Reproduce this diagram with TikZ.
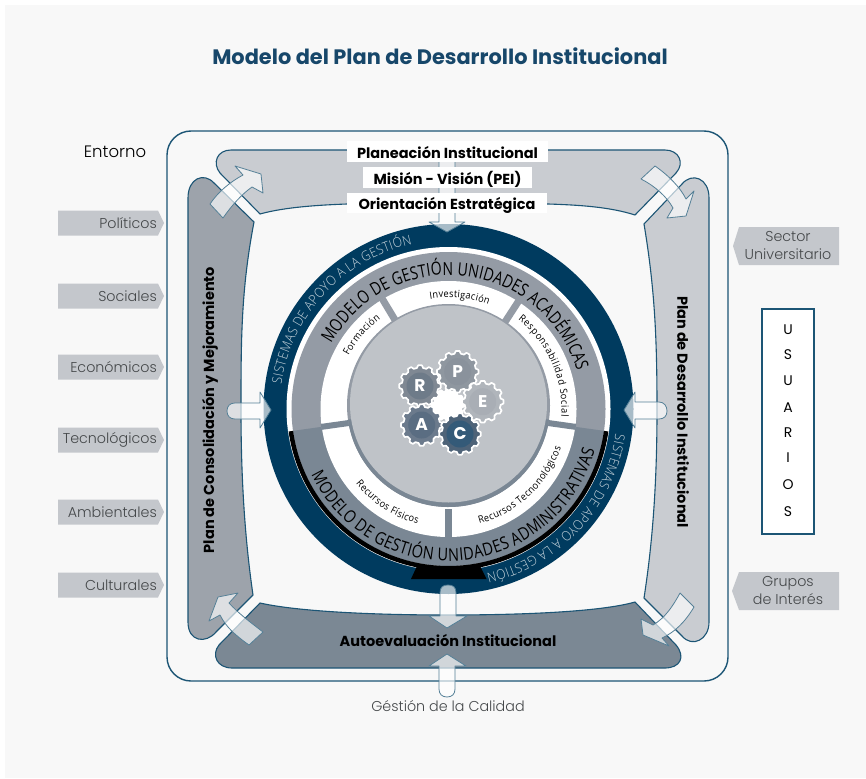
\documentclass[tikz,border=0pt]{standalone}
\usepackage{fontspec}
\setmainfont{Poppins}
\newfontfamily\poplight{Poppins Light}
\newfontfamily\opsans[FakeStretch=.92]{Open Sans}
\newfontfamily\ringa[FakeStretch=.78]{Open Sans}
\newfontfamily\ringb[FakeStretch=.83]{Open Sans}
\newfontfamily\oplight[FakeStretch=.9]{Open Sans Light}
\usetikzlibrary{decorations.text}
\definecolor{navy}{HTML}{003B5F}
\definecolor{edge}{HTML}{1C5575}
\definecolor{titlec}{HTML}{17476A}
\definecolor{pale}{HTML}{C9CCD1}
\definecolor{midg}{HTML}{9DA3AB}
\definecolor{darkg}{HTML}{7B8894}
\definecolor{ringtop}{HTML}{949BA5}
\definecolor{ringbot}{HTML}{7A8794}
\definecolor{disk}{HTML}{BFC3C8}
\definecolor{tagc}{HTML}{C4C7CC}
\definecolor{greytext}{HTML}{45484A}
\definecolor{panel}{HTML}{F8F8F8}
\definecolor{gPo}{HTML}{8F97A0}\definecolor{gPi}{HTML}{8A929C}
\definecolor{gRo}{HTML}{7F8893}\definecolor{gRi}{HTML}{6E7B89}
\definecolor{gEo}{HTML}{B0B5BB}\definecolor{gEi}{HTML}{A9AEB5}
\definecolor{gAo}{HTML}{6B7A8C}\definecolor{gAi}{HTML}{5A6D82}
\definecolor{gCo}{HTML}{4E6378}\definecolor{gCi}{HTML}{345A78}
\tikzset{
 band/.style={draw=edge,line width=1.1pt,line join=round},
 flow/.style={fill=white,fill opacity=.66,draw=edge!75,line width=.8pt,line join=round},
 tag/.style={fill=tagc,draw=none},
 taglabel/.style={font=\poplight\fontsize{14.3}{18}\selectfont,text=greytext,align=center,inner sep=0pt},
 boldl/.style={font=\bfseries\fontsize{14.5}{15}\selectfont,text=black,inner sep=0pt},
 whitebox/.style={boldl,fill=white,text height=13pt,text depth=0pt},
 userl/.style={font=\fontsize{14}{15}\selectfont,text=black,inner sep=0pt},
 gearl/.style={font=\bfseries\fontsize{17}{18}\selectfont,text=white,inner sep=0pt},
}
% gear: x y radius teeth-colour disc-colour disc-radius
\newcommand{\gearat}[6]{%
 \draw[fill=#4,draw=white,line width=1.7pt,line join=round]
  plot[domain=0:360,samples=145,variable=\a]
  ({#1+(#3+1.3*max(min(2.2*cos(12*\a),1),-1))*cos(\a)},{#2+(#3+1.3*max(min(2.2*cos(12*\a),1),-1))*sin(\a)}) -- cycle;
 \fill[#5] (#1,#2) circle[radius=#6];
}
\newcommand{\curved}[5]{%
 \path[decorate,decoration={text along path,text align={fit to path},text={|#5|#4}}]
  (#1:#3) arc[start angle=#1,end angle=#2,radius=#3];
}
\begin{document}
\begin{tikzpicture}[x=1pt,y=-1pt]
\useasboundingbox (0,0) rectangle (866,778);
\fill[white] (0,0) rectangle (866,778);
\fill[panel] (5,5) rectangle (866,778);

\node[font=\bfseries\fontsize{20.9}{22}\selectfont,text=titlec,inner sep=0pt] (title) at (440,56) {Modelo del Plan de Desarrollo Institucional};

% outer frame
\draw[edge,line width=1.4pt,fill=panel,rounded corners=24pt] (167,131) rectangle (728,681);
\node[font=\poplight\fontsize{16.5}{18}\selectfont,text=black,inner sep=0pt] (entorno) at (115,152) {Entorno};

% four bands
\draw[band,fill=pale] (347,150) -- (231,150) .. controls (217,150) and (212,163) .. (220,173) -- (260,214) .. controls (285,207) and (320,205) .. (347,204) -- (548,204) .. controls (580,205) and (610,207) .. (635,215) -- (676,173) .. controls (685,163) and (679,150) .. (665,150) -- cycle;
\draw[band,fill=midg] (254,222) .. controls (241,290) and (241,340) .. (241,410) .. controls (241,480) and (245,540) .. (253,595) -- (216,632) .. controls (206,644) and (188,642) .. (188,622) -- (188,198) .. controls (188,178) and (204,172) .. (214,183) -- cycle;
\draw[band,fill=pale] (644,224) .. controls (655,290) and (657,340) .. (657,410) .. controls (657,480) and (653,540) .. (644,598) -- (682,636) .. controls (692,648) and (709,640) .. (709,622) -- (709,198) .. controls (709,178) and (692,172) .. (682,184) -- cycle;
\draw[band,fill=darkg] (260,603) .. controls (300,612) and (380,615) .. (447,615) .. controls (520,615) and (600,612) .. (635,602) -- (676,645) .. controls (686,657) and (680,668) .. (665,668) -- (232,668) .. controls (217,668) and (211,655) .. (219,645) -- cycle;

% corner arrows
\draw[flow] (210,204) .. controls (218,192) and (230,182) .. (243,175) -- (235,166) -- (261,174) -- (263,193) -- (252,187) .. controls (242,194) and (232,205) .. (223,218) -- cycle;
\draw[flow] (641,179) -- (655,166) .. controls (668,175) and (680,187) .. (686,199) -- (694,191) -- (686,216) -- (667,218) -- (673,208) .. controls (667,197) and (655,186) .. (641,179) -- cycle;
\draw[flow] (680,593) -- (694,607) .. controls (685,622) and (675,632) .. (662,638) -- (669,646) -- (643,635) -- (641,619) -- (653,625) .. controls (665,618) and (673,606) .. (680,593) -- cycle;
\draw[flow] (263,632) -- (249,645) .. controls (235,635) and (226,627) .. (220,615) -- (209,621) -- (218,597) -- (238,593) -- (229,603) .. controls (238,613) and (250,622) .. (263,632) -- cycle;

% circular core
\begin{scope}[shift={(448.5,409)},x=1pt,y=1pt]
 \fill[navy] (0,0) circle[radius=185];
 \fill[white] (0,0) circle[radius=162];
 \fill[ringtop] (0,0) circle[radius=157];
 \fill[ringbot] (0,0) -- (188:157) arc[start angle=188,end angle=352,radius=157] -- cycle;
 \draw[black,line width=4.5pt] (188:159.2) arc[start angle=188,end angle=352,radius=159.2];
 \fill[black] (-31.5,-157) -- (31.5,-157) -- (38,-170) -- (-37.5,-170) -- cycle;
 \fill[white] (0,0) circle[radius=128];
 \draw[ringtop,line width=7pt] (121:100) -- (121:128.5);
 \draw[ringtop,line width=7pt] (57:100) -- (57:128.5);
 \draw[ringbot,line width=7pt] (270:100) -- (270:128.5);
 \draw[ringbot,line width=6pt] (188:95) -- (188:128.5);
 \draw[ringbot,line width=6pt] (352:95) -- (352:128.5);
 % inner disk
 \begin{scope}[yshift=3.5pt]
  \fill[ringtop] (0,0) circle[radius=101.5];
  \fill[ringbot] (0,0) -- (188:101.5) arc[start angle=188,end angle=352,radius=101.5] -- cycle;
 \end{scope}
 \fill[disk] (0,5) circle[radius=98.5];

 \curved{171.5}{102.5}{169}{SISTEMAS DE APOYO A LA GESTIÓN}{\oplight\fontsize{13.5}{14}\selectfont\color{white!78!navy}}
 \curved{-8.5}{-77}{169}{SISTEMAS DE APOYO A LA GESTIÓN}{\oplight\fontsize{13.5}{14}\selectfont\color{white!78!navy}}
 \curved{151}{16.5}{134}{MODELO DE GESTIÓN UNIDADES ACADÉMICAS}{\ringa\fontsize{18}{18}\selectfont\color{black}}
 \curved{205.5}{344.5}{152}{MODELO DE GESTIÓN UNIDADES ADMINISTRATIVAS}{\ringb\fontsize{17.5}{18}\selectfont\color{black}}
 \curved{99.5}{69}{111.5}{Investigación}{\opsans\fontsize{10}{11}\selectfont\color{black}}
 \curved{152}{127}{113}{Formación}{\opsans\fontsize{10}{11}\selectfont\color{black}}
 \curved{52}{-4}{113}{Responsabilidad Social}{\opsans\fontsize{10}{11}\selectfont\color{black}}
 \curved{219}{255}{119}{Recursos Físicos}{\opsans\fontsize{10}{11}\selectfont\color{black}}
 \curved{285}{341}{119}{Recursos Tecnonológicos}{\opsans\fontsize{10}{11}\selectfont\color{black}}
\end{scope}

% gears
\gearat{448}{405}{15}{white}{white}{1}
\gearat{457.7}{371.7}{19.5}{gPo}{gPi}{13.5}
\gearat{420}{386}{19.5}{gRo}{gRi}{13.5}
\gearat{482.7}{401.7}{19.5}{gEo}{gEi}{13.5}
\gearat{421.7}{425}{19.5}{gAo}{gAi}{13.5}
\gearat{460}{434}{19.5}{gCo}{gCi}{13.5}
\node[gearl] (gp) at (457.7,371.7) {P};
\node[gearl] (gr) at (420,386) {R};
\node[gearl] (ge) at (482.7,401.7) {E};
\node[gearl] (ga) at (421.7,425) {A};
\node[gearl] (gc) at (460,434) {C};

% straight arrows
\draw[flow] (227,411) .. controls (227,406) and (230,403) .. (235,403) -- (260,403) -- (260,392) -- (271,410) -- (260,428) -- (260,419) -- (235,419) .. controls (230,419) and (227,416) .. (227,411) -- cycle;
\draw[flow] (667,411) .. controls (667,406) and (664,402) .. (659,402) -- (635,402) -- (635,392) -- (624,410) -- (635,428) -- (635,419) -- (659,419) .. controls (664,419) and (667,416) .. (667,411) -- cycle;
\draw[flow] (439,150) -- (439,222) -- (429,222) -- (447,232) -- (465,222) -- (455,222) -- (455,150);
\draw[flow] (440,593) .. controls (440,587) and (443,585) .. (448,585) .. controls (453,585) and (456,587) .. (456,593) -- (456,616) -- (467,616) -- (447,628) -- (429,616) -- (440,616) -- cycle;
\draw[flow] (439,689) .. controls (439,694) and (442,697) .. (447,697) .. controls (452,697) and (455,694) .. (455,689) -- (455,666) -- (466,666) -- (447,654) -- (429,666) -- (439,666) -- cycle;

% white labels
\node[whitebox,minimum width=201pt,minimum height=21pt] (plan) at (447.5,151.5) {Planeación Institucional};
\node[whitebox,minimum width=169pt,minimum height=21pt] (mision) at (447.5,177.5) {Misión - Visión (PEI)};
\node[whitebox,minimum width=200pt,minimum height=20pt] (orient) at (447,203) {Orientación Estratégica};
\node[boldl] (auto) at (448,641) {Autoevaluación Institucional};
\node[boldl,rotate=90] (cons) at (210,410) {Plan de Consolidación y Mejoramiento};
\node[boldl,rotate=-90] (desa) at (683,412) {Plan de Desarrollo Institucional};
\node[taglabel] (calidad) at (448,706) {Géstión de la Calidad};

% left tags
\foreach \y/\t/\n in {223/Políticos/tp,296/Sociales/ts,367/Económicos/te,440/Tecnológicos/tt,512/Ambientales/ta,585/Culturales/tc}{
 \fill[tag] (58,\y-12.5) -- (158,\y-12.5) -- (164,\y) -- (158,\y+12.5) -- (58,\y+12.5) -- cycle;
 \node[taglabel,anchor=east] (\n) at (157,\y) {\t};
}
% right tags
\fill[tag] (733,246) -- (739,227) -- (839,227) -- (839,265) -- (739,265) -- cycle;
\node[taglabel] (sector) at (788,246) {Sector\\Universitario};
\fill[tag] (732,591) -- (739,572) -- (839,572) -- (839,610) -- (739,610) -- cycle;
\node[taglabel] (grupos) at (788,590) {Grupos\\de Interés};

% usuarios
\draw[edge,line width=1.4pt,fill=white] (762,309) rectangle (814,534);
\foreach \y/\t/\n in {330/U/u1,355/S/u2,381/U/u3,408/A/u4,433/R/u5,458/I/u6,485/O/u7,512/S/u8}{
 \node[userl] (\n) at (788,\y) {\t};
}
\end{tikzpicture}
\end{document}
